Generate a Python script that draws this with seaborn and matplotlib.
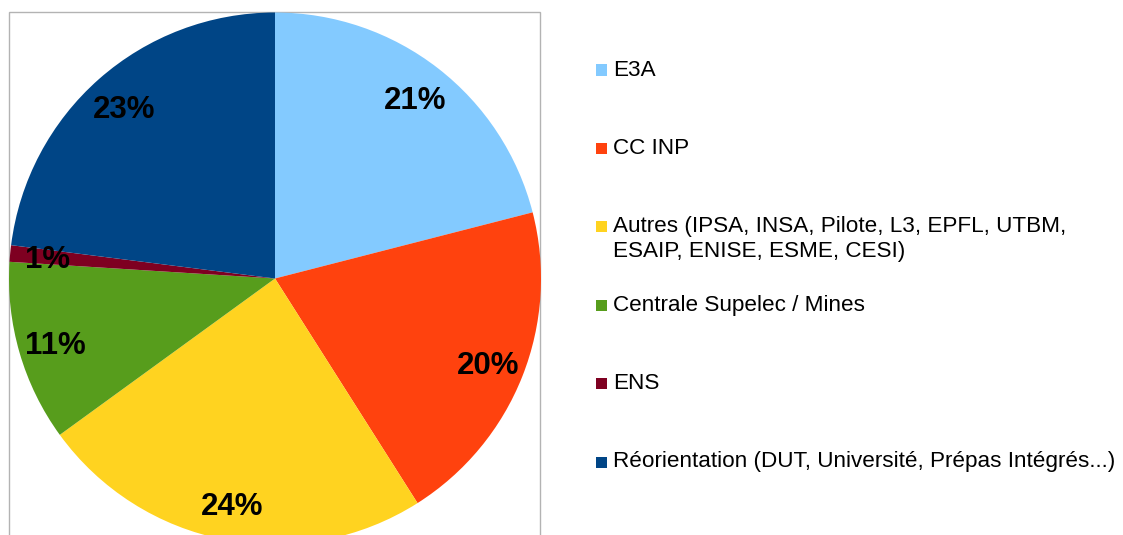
import matplotlib
matplotlib.use("Agg")
import matplotlib.pyplot as plt
import seaborn as sns
from matplotlib.patches import Rectangle

sns.set_theme(style="white")
plt.rcParams["font.family"] = ["Liberation Sans", "DejaVu Sans"]

# data
categories = [
    "E3A",
    "CC INP",
    "Autres (IPSA, INSA, Pilote, L3, EPFL, UTBM,\nESAIP, ENISE, ESME, CESI)",
    "Centrale Supelec / Mines",
    "ENS",
    "Réorientation (DUT, Université, Prépas Intégrés...)",
]
shares = [21, 20, 24, 11, 1, 23]
colors = sns.color_palette(["#83caff", "#ff420e", "#ffd320", "#579d1c", "#7e0021", "#004586"])

W, H = 1123, 535
fig = plt.figure(figsize=(W / 100, H / 100), dpi=100)

# pie axes: centre (275, 278.5) px, radius 266 px
cx, cy, r = 275, 278.5, 266
ax = fig.add_axes([(cx - r) / W, (H - cy - r) / H, 2 * r / W, 2 * r / H])
ax.pie(
    shares,
    colors=colors,
    startangle=90,
    counterclock=False,
    autopct="%d%%",
    pctdistance=0.86,
    textprops={"fontsize": 22.5, "fontweight": "bold", "color": "black",
               "va": "center_baseline"},
    wedgeprops={"linewidth": 0},
)
ax.set_xlim(-1, 1)
ax.set_ylim(-1, 1)
ax.set_aspect("equal")
ax.axis("off")

# grey frame around the plot area
frame = Rectangle((9 / W, -0.1), (540 - 9) / W, 1.1 - 12 / H, transform=fig.transFigure,
                  fill=False, edgecolor="#b3b3b3", linewidth=1, zorder=-1)
fig.add_artist(frame)

# legend drawn by hand (markers aligned to first text line)
for i, (lab, col) in enumerate(zip(categories, colors)):
    yc = 70 + i * 78.4
    fig.add_artist(Rectangle((596 / W, 1 - (yc + 5.5) / H), 11 / W, 11 / H,
                             transform=fig.transFigure, facecolor=col, edgecolor="none"))
    for j, line in enumerate(lab.split("\n")):
        fig.text(613 / W, 1 - (yc + j * 24.5) / H, line, fontsize=16.2, color="black",
                 va="center", ha="left")

fig.savefig("out.png", dpi=100)
